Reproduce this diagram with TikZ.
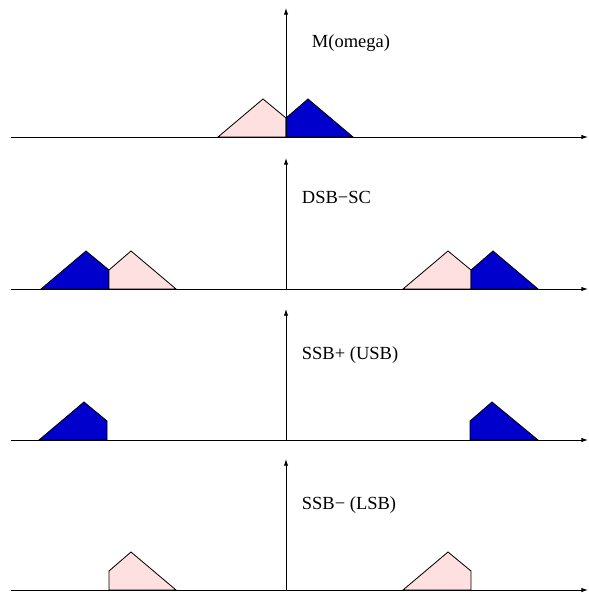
\documentclass[tikz,border=0pt]{standalone}
\usepackage{fontspec}
\setmainfont{Liberation Serif}
\usepackage{xcolor}
\usetikzlibrary{arrows.meta}
\definecolor{specblue}{RGB}{0,0,205}
\definecolor{specpink}{RGB}{255,224,224}
\begin{document}
\begin{tikzpicture}[x=0.6pt,y=-0.6pt,font=\fontsize{11.1}{13}\selectfont,
  axis/.style={line width=0.5pt,-{Latex[length=4pt,width=2.6pt]}},
  band/.style={draw=black,line width=0.5pt,line join=miter}]
\useasboundingbox (0,0) rectangle (588,593);
% M(omega)
\begin{scope}[shift={(0,137)}]
  \coordinate (ha0) at (11,0); \coordinate (ha1) at (588,0);
  \coordinate (va0) at (286,0); \coordinate (va1) at (286,-129);
  \filldraw[band,fill=specpink] (218,0) -- (263,-38) -- (286,-19) -- (286,0) -- cycle;
  \filldraw[band,fill=specblue] (286,0) -- (286,-19) -- (308,-38) -- (353,0) -- cycle;
  \draw[axis] (ha0) -- (ha1);
  \draw[axis] (va0) -- (va1);
  \node[anchor=west] (labm) at (306,-94) {M(omega)};
\end{scope}
% DSB-SC
\begin{scope}[shift={(0,289)}]
  \coordinate (hb0) at (11,0); \coordinate (hb1) at (588,0);
  \coordinate (vb0) at (286,0); \coordinate (vb1) at (286,-131);
  \filldraw[band,fill=specblue] (41,0) -- (86,-38) -- (109,-19) -- (109,0) -- cycle;
  \filldraw[band,fill=specpink] (109,0) -- (109,-19) -- (131,-38) -- (176,0) -- cycle;
  \filldraw[band,fill=specpink] (403,0) -- (448,-38) -- (471,-19) -- (471,0) -- cycle;
  \filldraw[band,fill=specblue] (471,0) -- (471,-19) -- (493,-38) -- (538,0) -- cycle;
  \draw[axis] (hb0) -- (hb1);
  \draw[axis] (vb0) -- (vb1);
  \node[anchor=west] (labd) at (296,-92) {DSB−SC};
\end{scope}
% SSB+ (USB)
\begin{scope}[shift={(0,440)}]
  \coordinate (hc0) at (11,0); \coordinate (hc1) at (588,0);
  \coordinate (vc0) at (286,0); \coordinate (vc1) at (286,-131);
  \filldraw[band,fill=specblue] (39,0) -- (84,-38) -- (107,-19) -- (107,0) -- cycle;
  \filldraw[band,fill=specblue] (470,0) -- (470,-19) -- (492,-38) -- (538,0) -- cycle;
  \draw[axis] (hc0) -- (hc1);
  \draw[axis] (vc0) -- (vc1);
  \node[anchor=west] (labu) at (296,-85) {SSB+ (USB)};
\end{scope}
% SSB- (LSB)
\begin{scope}[shift={(0,590)}]
  \coordinate (hd0) at (11,0); \coordinate (hd1) at (588,0);
  \coordinate (vd0) at (286,0); \coordinate (vd1) at (286,-131);
  \filldraw[band,fill=specpink] (109,0) -- (109,-19) -- (131,-38) -- (176,0) -- cycle;
  \filldraw[band,fill=specpink] (403,0) -- (448,-38) -- (471,-19) -- (471,0) -- cycle;
  \draw[axis] (hd0) -- (hd1);
  \draw[axis] (vd0) -- (vd1);
  \node[anchor=west] (labl) at (296,-85) {SSB− (LSB)};
\end{scope}
\end{tikzpicture}
\end{document}
